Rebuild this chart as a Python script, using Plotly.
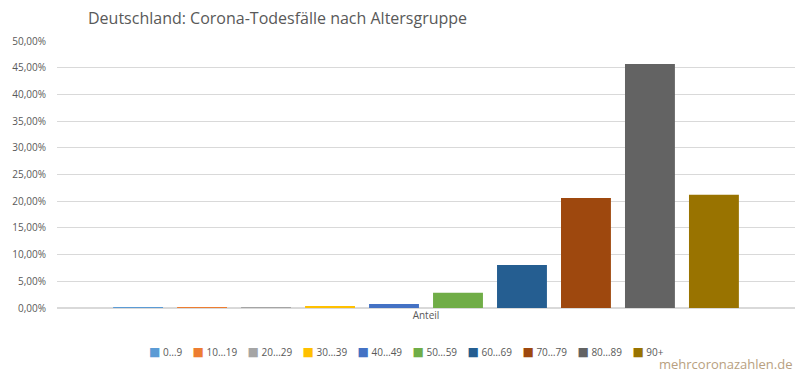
import plotly.graph_objects as go

categories = ["Anteil"]
age_groups = ["0…9", "10…19", "20…29", "30…39", "40…49", "50…59", "60…69", "70…79", "80…89", "90+"]
shares = [0.0001, 0.0001, 0.0004, 0.0025, 0.0075, 0.0287, 0.0805, 0.206, 0.457, 0.212]
colors = ["#5B9BD5", "#ED7D31", "#A5A5A5", "#FFC000", "#4472C4", "#70AD47", "#255E91", "#9E480E", "#636363", "#997300"]
y_ticks = [i * 0.05 for i in range(11)]

FONT = "Open Sans, Noto Sans, sans-serif"
TEXT = "#595959"

fig = go.Figure()
for name, val, col in zip(age_groups, shares, colors):
    fig.add_trace(go.Bar(x=categories, y=[val], name=name, showlegend=False,
                         marker=dict(color=col, line=dict(width=0))))

fig.update_layout(
    width=800, height=373,
    barmode="group", bargap=0.133, bargroupgap=0.22,
    paper_bgcolor="white", plot_bgcolor="white",
    separators=",.",
    margin=dict(l=57, r=5, t=41, b=65, autoexpand=False),
    font=dict(family=FONT, size=10, color=TEXT),
    title=dict(text="Deutschland: Corona-Todesfälle nach Altersgruppe", x=0.11, xanchor="left",
               y=0.952, yanchor="middle", font=dict(size=16, color=TEXT, family=FONT)),
)
fig.update_yaxes(range=[0, 0.5], tickvals=y_ticks, tickformat=".2%", gridcolor="#D9D9D9", gridwidth=1,
                 zeroline=True, zerolinecolor="#D9D9D9", showline=False, ticks="", ticklen=0,
                 ticklabelstandoff=10, automargin=False, tickfont=dict(size=10, color=TEXT))
fig.update_xaxes(showgrid=False, showline=False, ticks="", automargin=False,
                 tickfont=dict(size=10, color=TEXT))

# Legend (Excel-style: small colored square right next to the label)
sep = "&nbsp;" * 4
legend_text = sep.join(
    f"<span style='color:{c};font-size:12px;font-family:DejaVu Sans'>■</span> {n}"
    for n, c in zip(age_groups, colors)
)
fig.add_annotation(text=legend_text, xref="paper", yref="paper", x=(406 - 57) / 738, xanchor="center",
                   y=-0.165, yanchor="middle", showarrow=False, font=dict(size=10, color=TEXT, family=FONT))

fig.add_annotation(text="mehrcoronazahlen.de", xref="paper", yref="paper", x=1.0, xanchor="right",
                   y=-0.208, yanchor="middle", showarrow=False,
                   font=dict(size=13, color="#B8A080", family=FONT))

fig.write_html("out.html", config={"displayModeBar": False},
               post_script="document.body.style.margin='0';")
